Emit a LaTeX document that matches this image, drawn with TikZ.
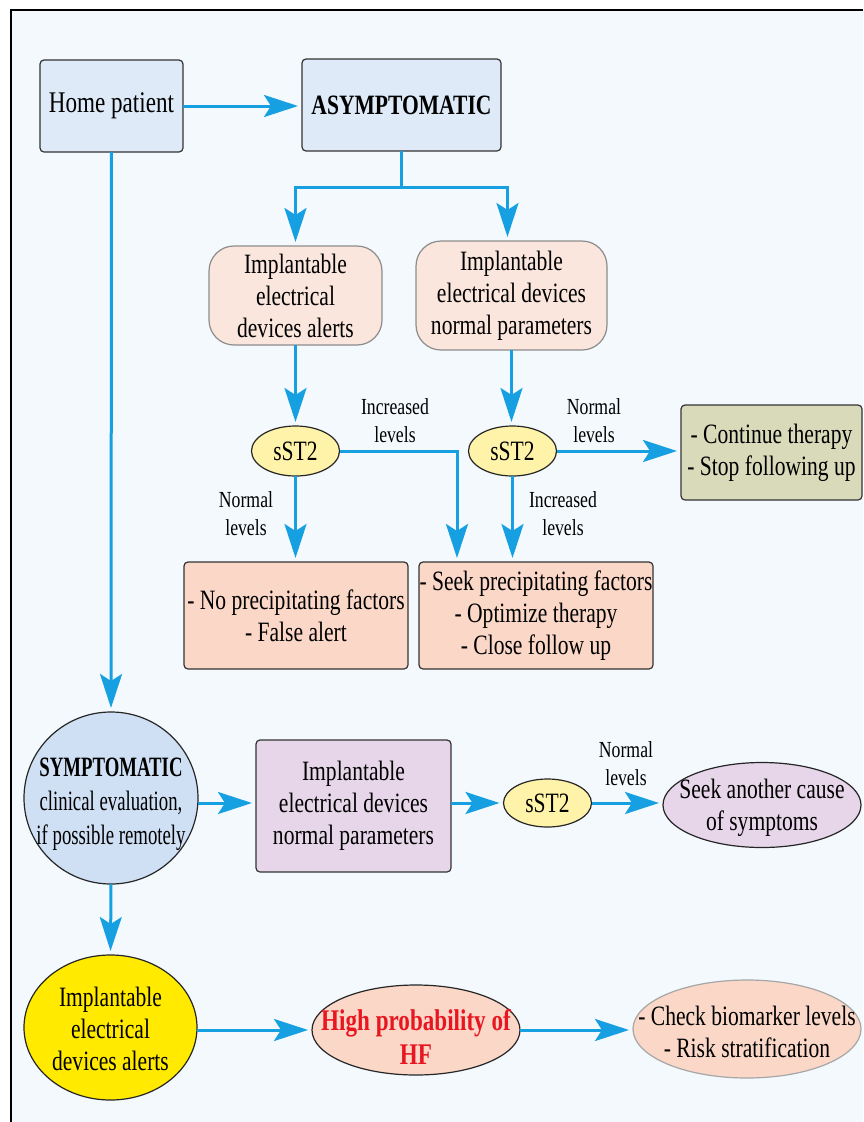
\documentclass[tikz,border=0pt]{standalone}
\usepackage{fontspec}
\setmainfont{Liberation Serif}[FakeStretch=0.77]
\newfontfamily\tightfont{Liberation Serif}[FakeStretch=0.67]
\usetikzlibrary{shapes.geometric,arrows.meta}
\definecolor{bgblue}{RGB}{244,249,253}
\definecolor{boxblue}{RGB}{222,234,247}
\definecolor{peach}{RGB}{250,230,221}
\definecolor{salmon}{RGB}{250,215,199}
\definecolor{sstyellow}{RGB}{255,243,170}
\definecolor{olive}{RGB}{216,218,186}
\definecolor{circblue}{RGB}{207,224,245}
\definecolor{lilac}{RGB}{231,214,233}
\definecolor{brightyellow}{RGB}{255,234,0}
\definecolor{hfred}{RGB}{232,22,32}
\definecolor{arrblue}{RGB}{22,160,226}

\begin{document}
\begin{tikzpicture}[x=1pt,y=-1pt,
    every node/.style={inner sep=0pt, outer sep=0pt, align=center, font=\fontsize{28pt}{32pt}\selectfont},
    box/.style={draw=black!80, line width=1.2pt, rounded corners=4pt},
    softbox/.style={draw=black!45, line width=1.2pt, rounded corners=25pt, fill=peach},
    oval/.style={ellipse, draw=black!85, line width=1.2pt},
    sst/.style={oval, fill=sstyellow, minimum width=88pt, minimum height=50pt},
    lvl/.style={font=\fontsize{23pt}{28pt}\selectfont},
    link/.style={draw=arrblue, line width=3pt},
    arr/.style={link, -{Stealth[length=34pt,width=22pt,inset=7pt]}, shorten >=4pt}]
    \useasboundingbox (0,0) rectangle (863,1122);
    \fill[white] (0,0) rectangle (863,1122);
    \fill[bgblue] (11,10) rectangle (863,1122);
    \draw[line width=1.5pt] (11,1122) -- (11,10) -- (863,10);

    % asymptomatic branch
    \node[box, fill=boxblue, minimum width=143pt, minimum height=92pt, font=\fontsize{30pt}{32pt}\selectfont] (home) at (111.5,106) {Home patient};
    \node[box, fill=boxblue, minimum width=199pt, minimum height=92pt] (asym) at (401.5,105) {\bfseries ASYMPTOMATIC};
    \node[softbox, minimum width=173pt, minimum height=99pt] (alertA) at (295.5,295.5) {Implantable\\electrical\\devices alerts};
    \node[softbox, minimum width=191pt, minimum height=109pt] (normA) at (511.5,295.5) {Implantable\\electrical devices\\normal parameters};
    \node[sst] (sstA) at (295.5,451) {sST2};
    \node[sst] (sstB) at (512.5,451) {sST2};
    \node[box, fill=olive, minimum width=181pt, minimum height=95pt] (cont) at (771.5,452.5) {- Continue therapy\\- Stop following up};
    \node[box, fill=salmon, minimum width=224pt, minimum height=107pt] (noprec) at (296,615.5) {- No precipitating factors\\- False alert};
    \node[box, fill=salmon, minimum width=234pt, minimum height=107pt] (seek) at (536,615.5) {- Seek precipitating factors\\- Optimize therapy\\- Close follow up};
    \node[lvl] (incA) at (395,421) {Increased\\levels};
    \node[lvl] (normlA) at (246,514) {Normal\\levels};
    \node[lvl] (incB) at (563,514) {Increased\\levels};
    \node[lvl] (normlB) at (594,421) {Normal\\levels};

    % symptomatic branch
    \node[oval, fill=circblue, minimum width=174pt, minimum height=172pt] (symp) at (111,798) {};
    \node[font=\tightfont\fontsize{28pt}{34pt}\selectfont] (sympT) at (111,804) {{\bfseries SYMPTOMATIC}\\clinical evaluation,\\if possible remotely};
    \node[box, fill=lilac, minimum width=195pt, minimum height=132pt] (purp) at (353.5,806) {Implantable\\electrical devices\\normal parameters};
    \node[sst, minimum height=48pt] (sstC) at (547.5,803) {sST2};
    \node[oval, fill=lilac, minimum width=198pt, minimum height=85pt] (other) at (762,805) {};
    \node (otherT) at (762,808) {Seek another cause\\of symptoms};
    \node[lvl] (normlC) at (626,764) {Normal\\levels};
    \node[oval, fill=brightyellow, minimum width=173pt, minimum height=145pt] (alertB) at (110.5,1027.5) {};
    \node (alertBT) at (110.5,1029) {Implantable\\electrical\\devices alerts};
    \node[oval, fill=salmon, minimum width=208pt, minimum height=90pt] (hf) at (416,1030) {};
    \node[text=hfred, font=\fontsize{30pt}{34pt}\selectfont\bfseries] (hfT) at (416,1037) {High probability of\\HF};
    \node[oval, draw=black!35, fill=salmon, minimum width=228pt, minimum height=98pt] (check) at (747,1029) {};
    \node (checkT) at (747,1032) {- Check biomarker levels\\- Risk stratification};

    % connectors
    \coordinate (fork) at (401.5,187);
    \draw[arr] (home.east) -- (home.east -| asym.west);
    \draw[link] (asym.south) -- (fork);
    \draw[arr] (fork) -| (alertA.north);
    \draw[arr] (fork) -| ([xshift=-4pt]normA.north);
    \draw[arr] (alertA.south) -- (sstA.north);
    \draw[arr] (normA.south) -- (normA.south |- sstB.north);
    \draw[arr] (sstA.east) -| ([xshift=-79pt]seek.north);
    \draw[arr] (sstA.south) -- (sstA.south |- noprec.north);
    \draw[arr] (sstB.south) -- (sstB.south |- seek.north);
    \draw[arr] (sstB.east) -- (sstB.east -| cont.west);
    \draw[arr] (home.south) -- (symp.north);
    \draw[arr] (symp.east |- sstC) -- (sstC -| purp.west);
    \draw[arr] (purp.east |- sstC) -- (sstC.west);
    \draw[arr] (sstC.east) -- (sstC.east -| other.west);
    \draw[arr] (symp.south) -- (alertB.north);
    \draw[arr] (alertB.east |- hf) -- (hf.west);
    \draw[arr] (hf.east) -- (hf.east -| check.west);
\end{tikzpicture}
\end{document}
